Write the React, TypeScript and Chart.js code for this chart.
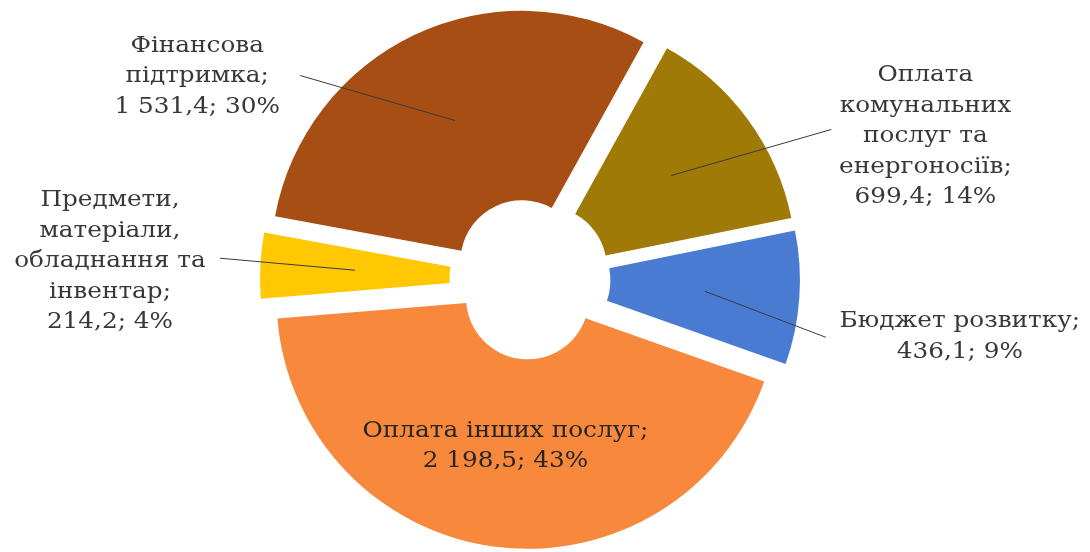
import React, { useEffect, useRef } from "react";
import { Chart, registerables } from "chart.js";

Chart.register(...registerables);

// ---- data ----
const categories: string[][] = [
  ["Оплата", "комунальних", "послуг та", "енергоносіїв;"],
  ["Бюджет розвитку;"],
  ["Оплата інших послуг;"],
  ["Предмети,", "матеріали,", "обладнання та", "інвентар;"],
  ["Фінансова", "підтримка;"],
];
const values: number[] = [699.4, 436.1, 2198.5, 214.2, 1531.4];
const colors: string[] = ["#A07A06", "#4A7BD3", "#F7883C", "#FFC803", "#A64E14"];

// ---- layout / style (not data) ----
const EXPLODE = 19;
const FONT = "23px 'DejaVu Serif'";
const TEXT_STRETCH = 1.075;
const LINE_H = 30.5;
// offsets relative to the ring mid-point of each slice
const labelLayout: { text: [number, number]; line: [number, number] | null; inside?: boolean }[] = [
  { text: [254, -39], line: [160, -46] },
  { text: [255, 45], line: [121, 46] },
  { text: [-2, -7], line: null, inside: true },
  { text: [-245, -9], line: [-135, -12] },
  { text: [-258, -44], line: [-155, -45] },
];

function fmt(v: number): string {
  const [i, d] = v.toFixed(1).split(".");
  const withSp = i.replace(/\B(?=(\d{3})+(?!\d))/g, " ");
  return withSp + "," + d;
}

const total = values.reduce((a, b) => a + b, 0);

const explodePlugin = {
  id: "explodeLabels",
  beforeDatasetDraw(chart: any, args: any) {
    const meta = chart.getDatasetMeta(args.index);
    const ctx = chart.ctx;
    meta.data.forEach((arc: any) => {
      const mid = (arc.startAngle + arc.endAngle) / 2;
      ctx.save();
      ctx.translate(Math.cos(mid) * EXPLODE, Math.sin(mid) * EXPLODE);
      arc.draw(ctx);
      ctx.restore();
    });
    return false;
  },
  afterDatasetsDraw(chart: any) {
    const meta = chart.getDatasetMeta(0);
    const ctx = chart.ctx;
    meta.data.forEach((arc: any, i: number) => {
      const mid = (arc.startAngle + arc.endAngle) / 2;
      const cx = arc.x + Math.cos(mid) * EXPLODE;
      const cy = arc.y + Math.sin(mid) * EXPLODE;
      const rr = (arc.innerRadius + arc.outerRadius) / 2;
      const px = cx + Math.cos(mid) * rr;
      const py = cy + Math.sin(mid) * rr;
      const lay = labelLayout[i];
      if (lay.line) {
        ctx.save();
        ctx.beginPath();
        ctx.strokeStyle = "#3a3a3a";
        ctx.lineWidth = 1;
        ctx.moveTo(px, py);
        ctx.lineTo(px + lay.line[0], py + lay.line[1]);
        ctx.stroke();
        ctx.restore();
      }
      const pct = Math.round((values[i] / total) * 100);
      const lines = [...categories[i], fmt(values[i]) + "; " + pct + "%"];
      const tx = px + lay.text[0];
      const ty = py + lay.text[1];
      ctx.save();
      ctx.font = FONT;
      ctx.textAlign = "center";
      ctx.textBaseline = "middle";
      ctx.fillStyle = lay.inside ? "#262626" : "#383838";
      ctx.translate(tx, ty);
      ctx.scale(TEXT_STRETCH, 1);
      lines.forEach((ln, k) => {
        ctx.fillText(ln, 0, (k - (lines.length - 1) / 2) * LINE_H);
      });
      ctx.restore();
    });
  },
};

export default function App() {
  const ref = useRef<HTMLCanvasElement | null>(null);
  useEffect(() => {
    document.body.style.margin = "0";
    const chart = new Chart(ref.current as HTMLCanvasElement, {
      type: "doughnut",
      data: {
        labels: categories.map((c) => c.join(" ")),
        datasets: [
          {
            data: values,
            backgroundColor: colors,
            borderWidth: 0,
          },
        ],
      },
      options: {
        animation: false,
        responsive: false,
        devicePixelRatio: 1,
        rotation: 29,
        radius: 251,
        cutout: "24.5%",
        layout: { padding: { left: 0, right: 30, top: 6, bottom: 0 } },
        plugins: {
          legend: { display: false },
          tooltip: { enabled: false },
        },
      } as any,
      plugins: [explodePlugin as any],
    });
    return () => chart.destroy();
  }, []);
  return (
    <div style={{ width: 1090, height: 552, background: "#fff" }}>
      <canvas ref={ref} width={1090} height={552} style={{ display: "block" }} />
    </div>
  );
}
